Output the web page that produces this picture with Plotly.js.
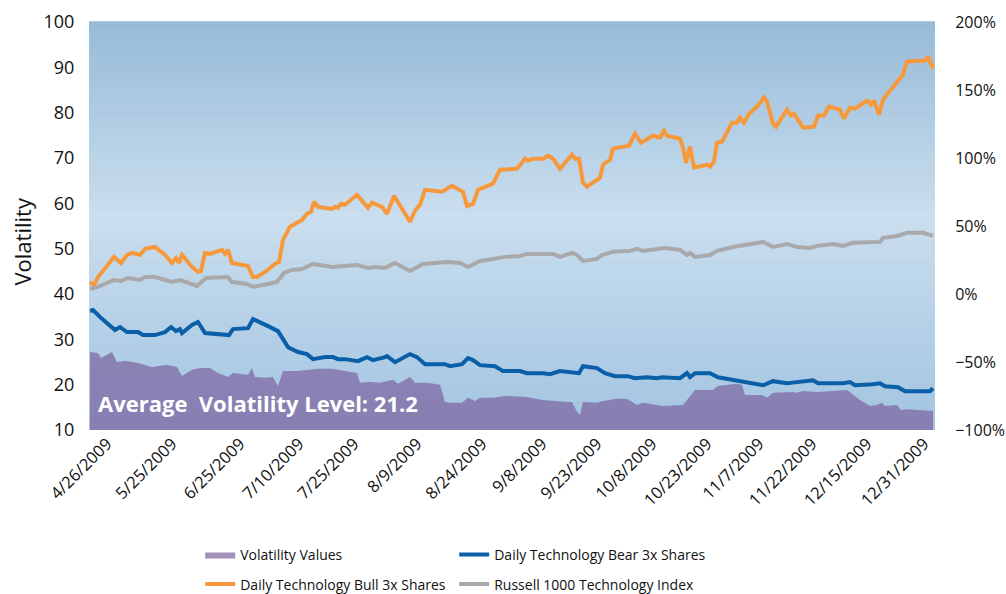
<!DOCTYPE html>
<html>
<head>
<meta charset="utf-8">
<script src="https://cdn.plot.ly/plotly-3.0.1.min.js"></script>
<style>html,body{margin:0;padding:0;background:#fff;}#chart{width:1006px;height:594px;}</style>
</head>
<body>
<div id="chart"></div>
<script>
// Trading-day index positions and values
var tickDays = [3.6, 16.6, 30.2, 42.0, 53.0, 65.6, 78.6, 90.6, 101.6, 112.6, 123.6, 134.0, 144.6, 155.6, 167.0];
var tickLabels = ["4/26/2009","5/25/2009","6/25/2009","7/10/2009","7/25/2009","8/9/2009","8/24/2009","9/8/2009","9/23/2009","10/8/2009","10/23/2009","11/7/2009","11/22/2009","12/15/2009","12/31/2009"];

var volDay = [0.2,1.8,2.4,4.6,5.6,7.2,9.8,12.6,15.6,17.6,18.6,20.6,22.2,24.2,25.8,27.8,28.8,31.8,32.6,33.2,35.2,36.8,37.8,38.8,41.8,45.8,48.6,49.8,51.8,53.6,54.2,56.2,58.2,60.8,61.8,64.2,65.2,67.6,70.2,71.2,72.2,74.6,75.8,77.2,78.2,80.8,83.2,86.2,87.6,90.8,92.8,95.6,96.6,97.6,98.2,98.8,101.6,102.8,105.6,107.6,109.6,110.8,114.8,118.8,121.2,124.8,125.8,129.6,130.6,131.2,134.6,135.6,136.8,140.8,141.6,142.8,145.6,151.6,152.6,154.2,156.2,157.6,158.6,159.2,161.6,162.4,163.6,166.8,168.8];
var volValues = [27.2,27.0,25.9,27.2,25.0,25.3,24.8,23.9,24.4,23.9,21.9,23.3,23.7,23.7,22.6,21.7,22.6,22.2,23.7,21.7,21.5,21.7,19.7,23.0,23.0,23.5,23.5,23.3,22.8,22.6,20.4,20.6,20.4,21.1,20.2,21.7,20.4,20.4,20.0,16.2,16.0,16.0,17.1,16.4,17.1,17.1,17.5,17.3,17.3,16.6,16.4,16.2,16.2,14.0,13.3,16.2,16.0,16.4,16.9,16.9,15.5,16.0,15.3,15.5,18.8,18.8,19.7,20.2,20.0,17.7,17.7,17.1,18.2,18.4,18.2,18.6,18.4,18.8,18.0,16.6,15.3,15.5,16.0,15.3,15.5,14.4,14.6,14.4,14.2];

var bearDay = [0.2,0.8,2.2,5.2,6.2,7.6,9.8,10.8,13.2,15.2,16.4,17.4,18.2,18.6,20.6,21.8,23.2,27.2,28.0,28.8,31.8,32.8,33.8,35.8,37.8,38.6,39.8,41.8,43.6,44.8,47.2,48.8,49.8,51.2,53.8,55.6,56.8,59.2,59.6,61.2,64.2,65.6,67.2,71.2,72.2,74.6,75.8,76.8,78.2,81.2,82.8,86.2,87.6,90.8,92.2,94.2,96.8,98.0,98.8,101.6,103.2,105.2,107.8,109.2,111.6,113.6,114.6,118.2,119.6,120.2,121.2,124.2,125.8,128.8,130.8,134.8,136.8,139.6,141.6,144.8,145.8,150.8,152.2,153.2,156.8,158.2,159.2,161.8,163.2,168.2,168.8];
var bearPct = [-12.5,-11.8,-16.9,-26.5,-24.3,-28.0,-28.0,-30.2,-30.2,-28.0,-24.3,-27.3,-25.8,-28.7,-22.8,-20.6,-28.7,-29.5,-30.2,-25.8,-25.1,-18.4,-19.9,-23.6,-27.3,-32.4,-39.1,-42.7,-44.2,-47.9,-46.4,-46.4,-47.9,-47.9,-49.4,-46.4,-48.6,-46.4,-45.7,-50.1,-44.2,-46.4,-51.6,-51.6,-53.1,-51.6,-47.2,-48.6,-52.3,-53.1,-56.7,-56.7,-58.2,-58.2,-59.0,-56.7,-58.2,-58.2,-53.1,-54.5,-58.2,-60.4,-60.4,-61.9,-61.2,-61.9,-61.2,-61.9,-58.2,-61.2,-58.2,-58.2,-61.2,-63.4,-64.8,-67.1,-64.1,-65.6,-64.8,-63.4,-65.6,-65.6,-64.8,-67.1,-66.3,-65.6,-67.8,-68.5,-71.5,-71.5,-69.3];

var bullDay = [0.2,1.0,1.8,5.0,6.4,7.6,8.6,10.2,11.2,13.2,15.2,16.6,17.4,18.0,18.6,20.6,21.8,22.4,23.2,24.2,26.6,27.2,27.8,28.6,31.8,32.8,33.6,35.2,37.2,38.0,38.8,40.2,42.6,43.6,44.4,45.0,45.8,48.6,49.2,49.8,50.4,51.2,53.6,54.8,55.8,56.6,58.6,59.6,61.0,64.2,65.2,66.2,67.2,70.6,72.6,74.8,75.6,76.8,77.8,80.8,82.2,85.6,87.2,87.8,88.8,90.8,91.8,92.8,94.2,96.6,97.2,98.0,98.8,99.6,102.2,102.8,104.2,104.8,108.0,109.2,110.4,112.8,114.2,115.0,115.6,118.2,118.8,119.4,120.2,121.0,123.6,124.2,125.0,125.6,126.6,128.6,129.6,130.2,131.0,132.0,133.6,135.0,135.6,136.8,137.4,139.6,140.4,141.0,142.8,145.0,145.8,147.0,148.0,150.2,151.0,152.2,153.2,155.6,156.4,157.0,158.0,158.8,160.8,162.8,163.6,167.2,167.8,168.8];
var bullPct = [8.8,6.6,12.5,27.3,22.8,28.7,30.2,28.7,33.2,34.6,28.7,22.8,26.5,22.8,28.7,19.9,16.2,16.9,30.2,29.5,32.4,29.5,32.4,22.8,20.6,12.5,12.5,16.2,22.1,23.6,39.8,49.4,54.5,59.0,60.4,67.8,64.1,62.6,64.1,63.4,66.3,65.6,73.0,67.8,63.4,67.1,64.1,59.0,72.2,53.1,61.2,65.6,76.6,75.2,79.6,75.2,64.8,66.3,76.6,81.1,91.4,92.1,99.5,98.0,99.5,99.5,101.7,99.5,92.1,102.4,99.5,99.5,81.8,78.9,85.5,95.1,98.7,106.9,109.1,117.9,111.3,116.4,115.0,120.1,116.4,114.2,107.6,96.5,108.3,92.9,95.1,93.6,97.3,111.3,112.0,126.0,126.0,129.7,126.0,132.6,137.8,144.4,141.5,125.3,123.1,135.6,131.2,132.6,122.3,123.1,131.2,131.2,137.8,135.6,129.0,137.1,136.3,142.2,139.3,142.2,131.9,143.0,151.8,161.4,171.0,171.7,174.6,165.8];

var russDay = [0.2,1.8,5.0,6.4,7.8,10.2,11.2,13.2,16.6,18.2,21.6,23.4,27.8,28.6,31.6,32.8,34.8,37.6,39.0,40.6,42.6,44.8,48.6,50.2,53.6,55.8,57.2,59.2,61.2,64.2,66.8,71.6,74.2,75.8,78.2,80.8,83.2,86.2,87.6,92.8,94.2,96.6,97.6,98.8,101.6,102.6,104.8,108.2,109.6,110.8,113.6,115.2,118.2,119.6,120.2,121.2,124.2,125.6,128.8,134.8,136.8,139.6,141.6,144.2,145.6,148.8,150.8,152.8,158.2,158.8,161.6,163.6,166.8,168.8];
var russPct = [3.7,5.2,10.3,9.6,11.8,10.3,12.5,12.5,8.8,10.3,5.9,11.8,12.5,8.8,7.4,5.2,6.6,8.8,15.5,17.7,18.4,22.1,19.9,20.6,21.4,19.2,19.9,19.2,22.8,16.9,22.1,23.6,22.8,19.9,24.3,25.8,27.3,28.0,29.5,29.5,27.3,30.2,28.7,24.3,25.8,28.7,31.0,31.7,33.2,31.7,33.2,33.9,32.4,28.7,30.2,27.3,28.7,31.7,34.6,38.3,34.6,36.8,34.6,33.9,35.4,36.8,35.4,37.6,38.3,41.3,42.7,45.0,45.0,42.7];

var avgVolatility = 21.2;

// Background gradient bands (style only)
var stops = [[0, [150,187,217]], [0.48, [202,222,238]], [1, [162,196,225]]];
function colAt(t){ // t: 0 = top, 1 = bottom
  for (var i=0;i<stops.length-1;i++){
    var a=stops[i], b=stops[i+1];
    if (t<=b[0]){ var f=(t-a[0])/(b[0]-a[0]); var c=a[1].map(function(v,k){return Math.round(v+(b[1][k]-v)*f);}); return 'rgb('+c.join(',')+')'; }
  }
  return 'rgb('+stops[stops.length-1][1].join(',')+')';
}
var shapes=[]; var nb=60;
for (var i=0;i<nb;i++){
  shapes.push({type:'rect', xref:'paper', yref:'paper', x0:0, x1:1, y0:1-(i+1)/nb, y1:1-i/nb+0.002, fillcolor:colAt((i+0.5)/nb), line:{width:0}, layer:'below'});
}

var FONT = 'Open Sans, sans-serif';
var traces = [
  {x: volDay, y: volValues, name: 'Volatility Values', type:'scatter', mode:'lines', line:{width:0, color:'rgba(124,98,160,0.7)'}, fill:'tozeroy', fillcolor:'rgba(124,98,160,0.7)', yaxis:'y', legend:'legend', hoverinfo:'skip'},
  {x: bearDay, y: bearPct, name: 'Daily Technology Bear 3x Shares', type:'scatter', mode:'lines', line:{width:4, color:'#0a5fa8'}, yaxis:'y2', legend:'legend'},
  {x: bullDay, y: bullPct, name: 'Daily Technology Bull 3x Shares', type:'scatter', mode:'lines', line:{width:4, color:'#f7993a'}, yaxis:'y2', legend:'legend2'},
  {x: russDay, y: russPct, name: 'Russell 1000 Technology Index', type:'scatter', mode:'lines', line:{width:4, color:'#a9a9ab'}, yaxis:'y2', legend:'legend2'}
];

var legendCommon = {orientation:'h', xref:'container', yref:'container', xanchor:'left', yanchor:'middle', entrywidth:209, entrywidthmode:'pixels', font:{family:FONT, size:14, color:'#111'}, bgcolor:'rgba(0,0,0,0)', itemclick:false, tracegroupgap:0};

var layout = {
  width:1006, height:594,
  margin:{l:89, r:71, t:22, b:164},
  paper_bgcolor:'#ffffff', plot_bgcolor:'rgba(0,0,0,0)',
  font:{family:FONT, color:'#111'},
  showlegend:true,
  xaxis:{range:[0,169.2], tickmode:'array', tickvals:tickDays, ticktext:tickLabels, tickangle:-45, showgrid:false, zeroline:false, showline:false, ticks:'', tickfont:{family:FONT, size:16.5, color:'#111'}, fixedrange:true},
  yaxis:{range:[10,100], dtick:10, tick0:10, showgrid:false, zeroline:false, showline:false, ticks:'outside', ticklen:10, tickcolor:'rgba(0,0,0,0)', tickfont:{family:FONT, size:18, color:'#111'}},
  yaxis2:{range:[-100,200], dtick:50, tick0:0, overlaying:'y', side:'right', ticksuffix:'%', showgrid:false, zeroline:false, showline:false, ticks:'outside', ticklen:16, tickcolor:'rgba(0,0,0,0)', tickfont:{family:FONT, size:16, color:'#111'}},
  legend: Object.assign({}, legendCommon, {x:0.199, y:0.066}),
  legend2: Object.assign({}, legendCommon, {x:0.199, y:0.016}),
  shapes: shapes,
  annotations:[
    {xref:'paper', yref:'y', x:0.0085, y:16.0, xanchor:'left', yanchor:'middle', showarrow:false, text:'Average\u00a0 Volatility Level: ' + avgVolatility.toFixed(1), font:{family:FONT, size:22, color:'#ffffff', weight:700}},
    {xref:'paper', yref:'y', x:-0.079, y:51.6, xanchor:'center', yanchor:'middle', textangle:-90, showarrow:false, text:'Volatility', font:{family:FONT, size:22, color:'#111'}}
  ]
};

Plotly.newPlot('chart', traces, layout, {displayModeBar:false, staticPlot:true});
</script>
</body>
</html>
